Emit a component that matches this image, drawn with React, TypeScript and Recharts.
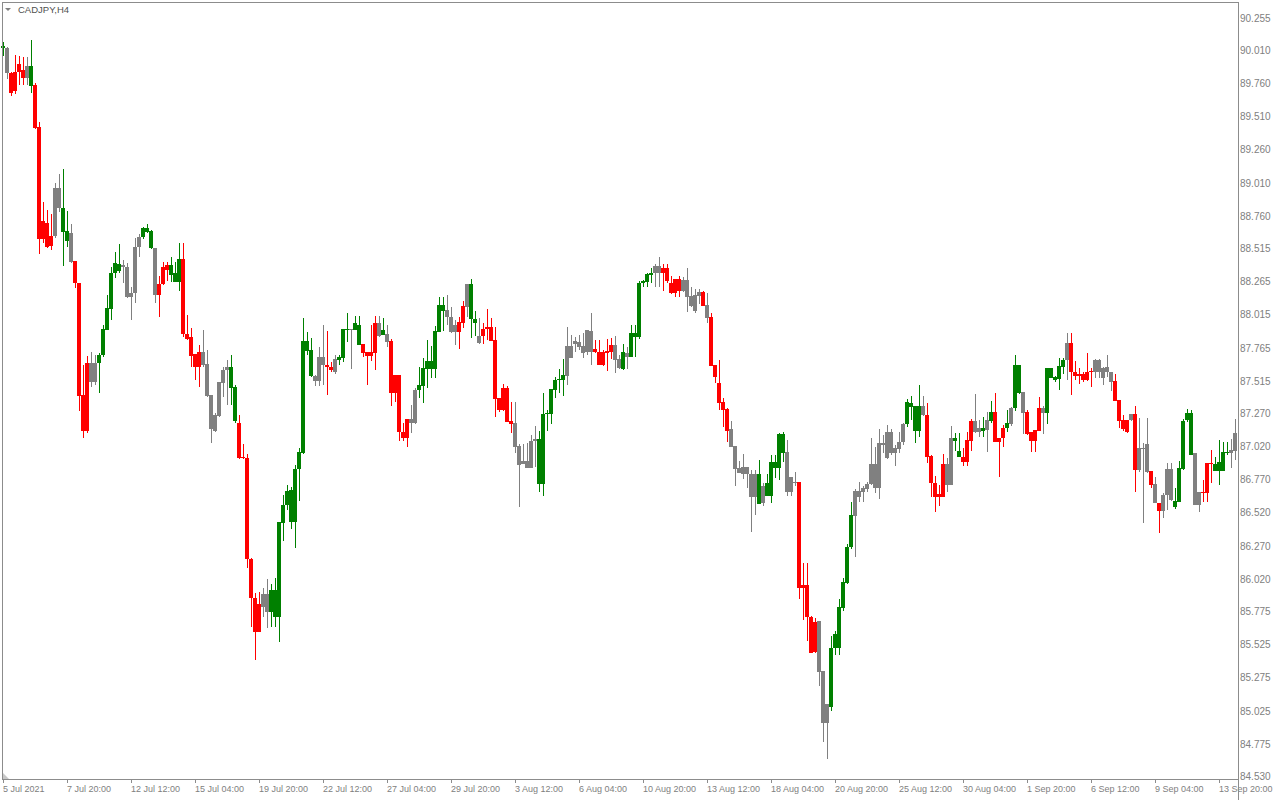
import { ComposedChart, Bar, XAxis, YAxis } from 'recharts';

// CADJPY H4 candles
const OPEN = [
  90.019, 90.02, 89.835, 89.70, 89.90, 89.855, 89.797, 89.885, 89.742, 89.425,
  88.582, 88.70, 88.53, 88.60, 88.964, 88.814, 88.64, 88.625, 88.413, 88.247,
  87.402, 87.133, 87.646, 87.503, 87.646, 87.701, 87.895, 88.054, 88.32, 88.391,
  88.366, 88.371, 88.144, 88.175, 88.522, 88.592, 88.66, 88.64, 88.509, 88.156,
  88.237, 88.383, 88.307, 88.32, 88.257, 88.426, 87.863, 87.842, 87.712, 87.616,
  87.729, 87.636, 87.402, 87.133, 87.246, 87.49, 87.591, 87.616, 87.46, 87.193,
  86.937, 86.924, 86.162, 85.867, 85.616, 85.80, 85.897, 85.767, 85.93, 85.729,
  86.438, 86.572, 86.685, 86.446, 86.843, 86.962, 87.81, 87.742, 87.545, 87.51,
  87.689, 87.628, 87.611, 87.578, 87.666, 87.681, 87.90, 87.893, 87.893, 87.93,
  87.787, 87.729, 87.696, 87.722, 87.948, 87.855, 87.862, 87.812, 87.42, 87.553,
  87.125, 87.075, 87.218, 87.188, 87.44, 87.47, 87.598, 87.661, 87.598, 87.88,
  88.081, 88.043, 87.993, 87.88, 87.88, 87.947, 88.068, 88.239, 87.975, 87.847,
  87.847, 87.90, 87.912, 87.817, 87.376, 87.288, 87.457, 87.205, 87.188, 87.019,
  86.881, 86.903, 86.853, 87.054, 87.069, 86.727, 87.258, 87.258, 87.439, 87.515,
  87.515, 87.545, 87.771, 87.786, 87.804, 87.771, 87.729, 87.885, 87.749, 87.729,
  87.628, 87.734, 87.729, 87.779, 87.673, 87.598, 87.719, 87.691, 87.867, 87.842,
  88.244, 88.257, 88.307, 88.32, 88.375, 88.32, 88.358, 88.244, 88.169, 88.275,
  88.189, 88.27, 88.149, 88.038, 88.151, 88.181, 88.081, 87.988, 87.628, 87.495,
  87.349, 87.296, 87.145, 87.017, 86.853, 86.803, 86.858, 86.805, 86.634, 86.805,
  86.584, 86.642, 86.642, 86.896, 86.853, 87.107, 86.971, 86.672, 86.748, 86.748,
  85.942, 85.968, 85.729, 85.464, 85.696, 85.319, 84.923, 85.049, 85.49, 85.49,
  85.791, 85.983, 86.252, 86.491, 86.677, 86.667, 86.69, 86.73, 86.881, 86.697,
  87.037, 87.123, 86.962, 87.0, 86.995, 87.05, 87.183, 87.339, 87.319, 87.133,
  87.319, 87.249, 86.942, 86.736, 86.655, 86.635, 86.881, 86.723, 87.075, 86.982,
  86.937, 86.899, 87.058, 87.206, 87.126, 87.151, 87.138, 87.208, 87.276, 87.05,
  87.075, 87.15, 87.183, 87.306, 87.628, 87.422, 87.271, 87.12, 87.057, 87.13,
  87.301, 87.268, 87.603, 87.54, 87.52, 87.615, 87.666, 87.792, 87.578, 87.558,
  87.558, 87.515, 87.583, 87.578, 87.666, 87.608, 87.578, 87.573, 87.507, 87.364,
  87.213, 87.213, 87.213, 87.258, 86.836, 86.999, 87.032, 86.831, 86.73, 86.584,
  86.529, 86.647, 86.843, 86.602, 86.597, 86.843, 87.213, 87.263, 86.961, 86.571,
  86.672, 86.665, 86.891, 86.831, 86.831, 86.831, 86.961, 86.961, 86.982,
];

const HIGH = [
  90.069, 90.03, 89.842, 89.968, 89.961, 89.951, 89.951, 90.082, 89.754, 89.46,
  88.856, 88.798, 88.766, 88.999, 89.07, 89.108, 88.791, 88.693, 88.413, 88.247,
  87.628, 87.696, 87.726, 87.704, 87.716, 87.93, 88.157, 88.366, 88.481, 88.542,
  88.421, 88.401, 88.22, 88.585, 88.617, 88.667, 88.692, 88.647, 88.514, 88.30,
  88.408, 88.408, 88.441, 88.408, 88.552, 88.547, 88.006, 87.905, 87.712, 87.779,
  87.893, 87.742, 87.402, 87.264, 87.503, 87.616, 87.666, 87.704, 87.478, 87.25,
  87.032, 86.957, 86.169, 85.905, 85.912, 85.943, 86.011, 85.973, 86.018, 86.446,
  86.647, 86.723, 86.705, 86.874, 86.999, 87.981, 87.88, 87.83, 87.553, 87.767,
  87.93, 87.885, 87.654, 87.704, 87.704, 87.90, 88.023, 87.90, 87.998, 87.998,
  87.787, 87.729, 87.93, 87.998, 87.998, 87.981, 87.93, 87.822, 87.553, 87.553,
  87.188, 87.218, 87.326, 87.452, 87.611, 87.679, 87.817, 87.771, 87.922, 88.139,
  88.144, 88.156, 88.068, 87.968, 87.988, 88.111, 88.239, 88.277, 88.036, 87.985,
  87.947, 88.048, 87.98, 87.912, 87.376, 87.482, 87.472, 87.346, 87.346, 87.029,
  87.029, 87.037, 87.10, 87.17, 87.13, 87.414, 87.288, 87.444, 87.535, 87.598,
  87.673, 87.912, 87.852, 87.837, 87.854, 87.867, 87.892, 88.018, 87.817, 87.817,
  87.741, 87.824, 87.834, 87.847, 87.703, 87.786, 87.766, 87.93, 87.93, 88.265,
  88.27, 88.325, 88.358, 88.39, 88.446, 88.39, 88.39, 88.30, 88.275, 88.30,
  88.295, 88.358, 88.214, 88.199, 88.199, 88.189, 88.169, 88.023, 87.628, 87.666,
  87.376, 87.301, 87.208, 87.017, 86.906, 86.956, 86.858, 86.835, 86.835, 86.911,
  86.735, 86.805, 86.949, 86.949, 87.117, 87.122, 87.06, 86.78, 86.823, 86.748,
  86.131, 86.131, 85.734, 85.716, 85.696, 85.319, 85.067, 85.583, 85.623, 85.862,
  86.018, 86.277, 86.597, 86.69, 86.748, 86.715, 86.748, 87.075, 87.007, 87.143,
  87.10, 87.176, 87.143, 87.025, 87.123, 87.193, 87.37, 87.395, 87.319, 87.478,
  87.395, 87.339, 86.949, 86.791, 86.723, 86.957, 86.924, 87.168, 87.113, 87.118,
  87.0, 87.126, 87.219, 87.409, 87.213, 87.233, 87.276, 87.357, 87.419, 87.075,
  87.175, 87.288, 87.314, 87.704, 87.628, 87.422, 87.288, 87.12, 87.137, 87.389,
  87.319, 87.608, 87.608, 87.545, 87.678, 87.683, 87.867, 87.867, 87.658, 87.603,
  87.578, 87.716, 87.608, 87.673, 87.673, 87.615, 87.704, 87.578, 87.558, 87.364,
  87.251, 87.213, 87.258, 87.319, 87.226, 87.037, 87.226, 86.831, 86.78, 86.584,
  86.66, 86.886, 86.886, 86.697, 86.906, 87.218, 87.294, 87.289, 86.961, 86.672,
  86.76, 86.891, 86.987, 86.931, 87.062, 87.049, 87.049, 87.067, 87.218,
];

const LOW = [
  89.961, 89.79, 89.661, 89.67, 89.742, 89.742, 89.742, 89.679, 89.41, 88.464,
  88.547, 88.509, 88.496, 88.589, 88.786, 88.378, 88.522, 88.396, 88.212, 87.281,
  87.08, 87.113, 87.465, 87.477, 87.415, 87.691, 87.893, 87.968, 88.288, 88.325,
  88.25, 88.132, 87.968, 88.094, 88.446, 88.577, 88.622, 88.501, 88.094, 87.993,
  88.232, 88.262, 88.257, 88.257, 88.186, 87.837, 87.817, 87.616, 87.515, 87.465,
  87.616, 87.39, 87.037, 87.125, 87.239, 87.39, 87.327, 87.327, 87.193, 86.917,
  86.917, 86.094, 85.653, 85.402, 85.616, 85.729, 85.641, 85.653, 85.653, 85.54,
  86.302, 86.534, 86.388, 86.245, 86.604, 86.957, 87.704, 87.54, 87.47, 87.47,
  87.477, 87.402, 87.578, 87.56, 87.628, 87.654, 87.805, 87.598, 87.893, 87.779,
  87.691, 87.477, 87.661, 87.591, 87.842, 87.855, 87.767, 87.319, 87.352, 87.057,
  87.057, 87.012, 87.118, 87.183, 87.377, 87.344, 87.452, 87.527, 87.532, 87.88,
  87.885, 87.93, 87.872, 87.779, 87.749, 87.905, 87.993, 87.834, 87.847, 87.786,
  87.784, 87.817, 87.812, 87.238, 87.276, 87.281, 87.20, 87.112, 86.966, 86.554,
  86.881, 86.848, 86.848, 86.856, 86.672, 86.642, 87.132, 87.183, 87.381, 87.419,
  87.397, 87.477, 87.678, 87.729, 87.741, 87.683, 87.703, 87.628, 87.716, 87.628,
  87.62, 87.585, 87.671, 87.57, 87.598, 87.59, 87.595, 87.686, 87.691, 87.822,
  88.219, 88.219, 88.244, 88.219, 88.219, 88.189, 88.244, 88.164, 88.144, 88.144,
  88.181, 88.031, 88.068, 88.018, 88.088, 88.073, 87.948, 87.623, 87.49, 87.288,
  87.163, 87.049, 87.012, 86.717, 86.815, 86.765, 86.697, 86.37, 86.496, 86.579,
  86.564, 86.642, 86.589, 86.773, 86.76, 86.898, 86.639, 86.639, 86.715, 85.859,
  85.703, 85.547, 85.457, 85.457, 85.208, 84.785, 84.652, 85.019, 85.439, 85.439,
  85.774, 85.975, 86.239, 86.181, 86.597, 86.597, 86.672, 86.722, 86.66, 86.614,
  86.962, 86.917, 86.949, 86.869, 86.962, 87.025, 87.163, 87.213, 87.042, 87.088,
  87.244, 86.891, 86.635, 86.522, 86.564, 86.63, 86.672, 86.723, 86.982, 86.932,
  86.866, 86.866, 86.98, 87.118, 87.088, 87.083, 86.974, 87.188, 87.045, 86.785,
  87.012, 87.12, 87.17, 87.281, 87.407, 87.105, 87.10, 86.974, 86.974, 87.13,
  87.105, 87.183, 87.527, 87.497, 87.439, 87.558, 87.515, 87.402, 87.515, 87.482,
  87.497, 87.507, 87.465, 87.532, 87.532, 87.477, 87.54, 87.434, 87.359, 87.15,
  87.133, 87.112, 87.208, 86.672, 86.823, 86.433, 86.81, 86.697, 86.589, 86.358,
  86.471, 86.534, 86.602, 86.539, 86.597, 86.836, 87.20, 86.949, 86.571, 86.516,
  86.597, 86.597, 86.735, 86.828, 86.722, 86.831, 86.949, 86.848, 86.911,
];

const CLOSE = [
  90.039, 89.83, 89.684, 89.84, 89.842, 89.797, 89.885, 89.737, 89.42, 88.582,
  88.715, 88.522, 88.602, 88.964, 88.811, 88.635, 88.567, 88.408, 88.245, 87.397,
  87.133, 87.643, 87.503, 87.646, 87.701, 87.90, 88.059, 88.323, 88.396, 88.335,
  88.383, 88.144, 88.175, 88.522, 88.592, 88.66, 88.635, 88.509, 88.156, 88.239,
  88.371, 88.345, 88.383, 88.257, 88.426, 87.863, 87.825, 87.696, 87.616, 87.729,
  87.629, 87.397, 87.145, 87.251, 87.503, 87.591, 87.616, 87.452, 87.208, 86.929,
  86.924, 86.162, 85.867, 85.616, 85.824, 85.897, 85.767, 85.93, 85.729, 86.446,
  86.572, 86.677, 86.446, 86.843, 86.969, 87.81, 87.737, 87.545, 87.51, 87.689,
  87.628, 87.616, 87.591, 87.674, 87.686, 87.90, 87.893, 87.90, 87.943, 87.779,
  87.722, 87.696, 87.729, 87.948, 87.85, 87.893, 87.805, 87.42, 87.553, 87.125,
  87.075, 87.218, 87.188, 87.44, 87.477, 87.603, 87.661, 87.598, 87.885, 88.081,
  88.038, 87.993, 87.88, 87.93, 87.95, 88.076, 88.239, 87.975, 87.947, 87.797,
  87.90, 87.912, 87.812, 87.371, 87.288, 87.452, 87.20, 87.183, 87.012, 86.873,
  86.906, 86.853, 87.054, 87.069, 86.727, 87.258, 87.263, 87.444, 87.515, 87.522,
  87.552, 87.771, 87.683, 87.809, 87.766, 87.721, 87.892, 87.729, 87.729, 87.628,
  87.729, 87.721, 87.779, 87.666, 87.608, 87.724, 87.691, 87.867, 87.842, 88.244,
  88.262, 88.312, 88.32, 88.375, 88.32, 88.358, 88.265, 88.169, 88.275, 88.189,
  88.27, 88.144, 88.076, 88.156, 88.181, 88.076, 87.985, 87.623, 87.54, 87.344,
  87.288, 87.132, 87.012, 86.846, 86.815, 86.861, 86.803, 86.634, 86.805, 86.579,
  86.715, 86.74, 86.896, 86.853, 87.107, 86.966, 86.672, 86.78, 86.74, 85.942,
  85.968, 85.724, 85.457, 85.691, 85.313, 84.929, 85.067, 85.49, 85.598, 85.799,
  85.988, 86.257, 86.496, 86.677, 86.634, 86.697, 86.73, 86.881, 86.697, 87.037,
  87.025, 86.929, 87.123, 86.962, 87.047, 87.183, 87.347, 87.309, 87.133, 87.319,
  87.249, 86.937, 86.736, 86.635, 86.63, 86.881, 86.723, 87.075, 87.055, 86.937,
  86.899, 87.063, 87.206, 87.126, 87.151, 87.133, 87.213, 87.276, 87.045, 87.075,
  87.15, 87.188, 87.301, 87.628, 87.414, 87.268, 87.105, 87.057, 87.137, 87.301,
  87.263, 87.603, 87.532, 87.515, 87.621, 87.666, 87.792, 87.578, 87.545, 87.545,
  87.515, 87.578, 87.573, 87.666, 87.578, 87.527, 87.61, 87.502, 87.359, 87.208,
  87.143, 87.125, 87.258, 86.836, 86.999, 86.992, 86.823, 86.722, 86.589, 86.529,
  86.647, 86.843, 86.609, 86.554, 86.848, 87.208, 87.263, 86.949, 86.571, 86.672,
  86.665, 86.891, 86.881, 86.881, 86.899, 86.974, 86.974, 86.987, 87.112,
];

// candle colour from the indicator: g = up trend, r = down trend, n = neutral
const TONES = [
  'gnrrrrngrr', 'rrrnnggnrr', 'rrnngggggg', 'nnnnngggnr', 'rrgggrrrrr',
  'nnnnnnnggr', 'rrrrrnnggg', 'ggggggggnn', 'nrrngggngg', 'rrrrngnrrr',
  'rrnngggggg', 'gnnnrrnggn', 'rrrrrrrrnn', 'nnnngggggg', 'gnnnnnnnrr',
  'rrrnngnggg', 'gggnnrrrrr', 'nnnnnrnrrr', 'rrnnnnnnng', 'ngggggnnnr',
  'rrrrnnnggg', 'gggnnnnnnn', 'nnnnnngggg', 'nrrrrrnngg', 'rrrnngngrr',
  'rgnggnrrrr', 'ngggggnrrr', 'rrrnnnnnrr', 'rrnrnnnrnr', 'nnngggggnn',
  'rrrggggnn',
].join('');

const TIME_LABELS = [
  '5 Jul 2021', '7 Jul 20:00', '12 Jul 12:00', '15 Jul 04:00', '19 Jul 20:00',
  '22 Jul 12:00', '27 Jul 04:00', '29 Jul 20:00', '3 Aug 12:00', '6 Aug 04:00',
  '10 Aug 20:00', '13 Aug 12:00', '18 Aug 04:00', '20 Aug 20:00', '25 Aug 12:00',
  '30 Aug 04:00', '1 Sep 20:00', '6 Sep 12:00', '9 Sep 04:00', '13 Sep 20:00',
];

const PRICE_TICKS = [
  90.255, 90.01, 89.76, 89.51, 89.26, 89.01, 88.76, 88.515, 88.265, 88.015,
  87.765, 87.515, 87.27, 87.02, 86.77, 86.52, 86.27, 86.02, 85.775, 85.525,
  85.275, 85.025, 84.775, 84.53,
];

const COLORS: Record<string, string> = { g: '#008000', r: '#ff0000', n: '#808080' };
const AXIS_TEXT = '#808080';
const FRAME = '#8c8c8c';
const FONT = '"Liberation Sans", Arial, sans-serif';

const data = OPEN.map((o, i) => ({
  i,
  o,
  h: HIGH[i],
  l: LOW[i],
  c: CLOSE[i],
  tone: TONES[i],
  range: [LOW[i], HIGH[i]],
}));

function Candle(props: any) {
  const { x, y, height, payload } = props;
  const top = Math.min(y, y + height);
  const bottom = Math.max(y, y + height);
  const span = payload.h - payload.l;
  const k = span > 0 ? (bottom - top) / span : 0;
  const yOf = (v: number) => top + (payload.h - v) * k;
  const color = COLORS[payload.tone];
  const bodyTop = Math.round(yOf(Math.max(payload.o, payload.c)));
  const bodyBottom = Math.round(yOf(Math.min(payload.o, payload.c)));
  const left = Math.round(x);
  return (
    <g shapeRendering="crispEdges">
      <rect x={left + 2} y={Math.round(top)} width={1} height={Math.max(1, Math.round(bottom) - Math.round(top))} fill={color} />
      <rect x={left} y={bodyTop} width={4} height={Math.max(1, bodyBottom - bodyTop)} fill={color} />
    </g>
  );
}

function TimeTick({ x, y, payload }: any) {
  return (
    <text x={x} y={y + 7} fill={AXIS_TEXT} fontSize={9} fontFamily={FONT} textAnchor="start">
      {TIME_LABELS[payload.value / 16]}
    </text>
  );
}

function PriceTick({ x, y, payload }: any) {
  return (
    <text x={x} y={y + 4.6} fill={AXIS_TEXT} fontSize={10} fontFamily={FONT} textAnchor="start">
      {payload.value.toFixed(3)}
    </text>
  );
}

export default function App() {
  return (
    <div style={{ position: 'relative', width: 1280, height: 800, background: '#fff' }}>
      <style>{'html,body{margin:0;padding:0;overflow:hidden;background:#fff}'}</style>
      <ComposedChart width={1280} height={800} data={data} margin={{ top: 2, right: 0, bottom: 0, left: 1 }} barCategoryGap={0}>
        <XAxis
          dataKey="i"
          interval={15}
          height={21}
          tickSize={4}
          tickMargin={2}
          axisLine={false}
          tickLine={{ stroke: FRAME, shapeRendering: 'crispEdges' }}
          tick={<TimeTick />}
        />
        <YAxis
          orientation="right"
          width={43}
          type="number"
          domain={[84.504, 90.368]}
          allowDataOverflow
          ticks={PRICE_TICKS}
          interval={0}
          tickSize={0}
          tickMargin={3}
          axisLine={false}
          tickLine={false}
          tick={<PriceTick />}
        />
        <Bar dataKey="range" shape={<Candle />} isAnimationActive={false} />
      </ComposedChart>
      <svg width={1280} height={800} style={{ position: 'absolute', left: 0, top: 0, pointerEvents: 'none' }}>
        <g shapeRendering="crispEdges" stroke={FRAME} strokeWidth={1}>
          <line x1={2.5} y1={2} x2={2.5} y2={780} />
          <line x1={2} y1={2.5} x2={1239} y2={2.5} />
          <line x1={1238.5} y1={2} x2={1238.5} y2={800} />
          <line x1={2} y1={779.5} x2={1239} y2={779.5} />
        </g>
        <polygon points="3,773 3,779 9,779" fill="#c8c8c8" />
        <polygon points="5,8 11,8 8,11" fill="#808080" />
        <text x={18} y={13} fill="#505050" fontSize={9.5} fontFamily={FONT}>CADJPY,H4</text>
      </svg>
    </div>
  );
}
